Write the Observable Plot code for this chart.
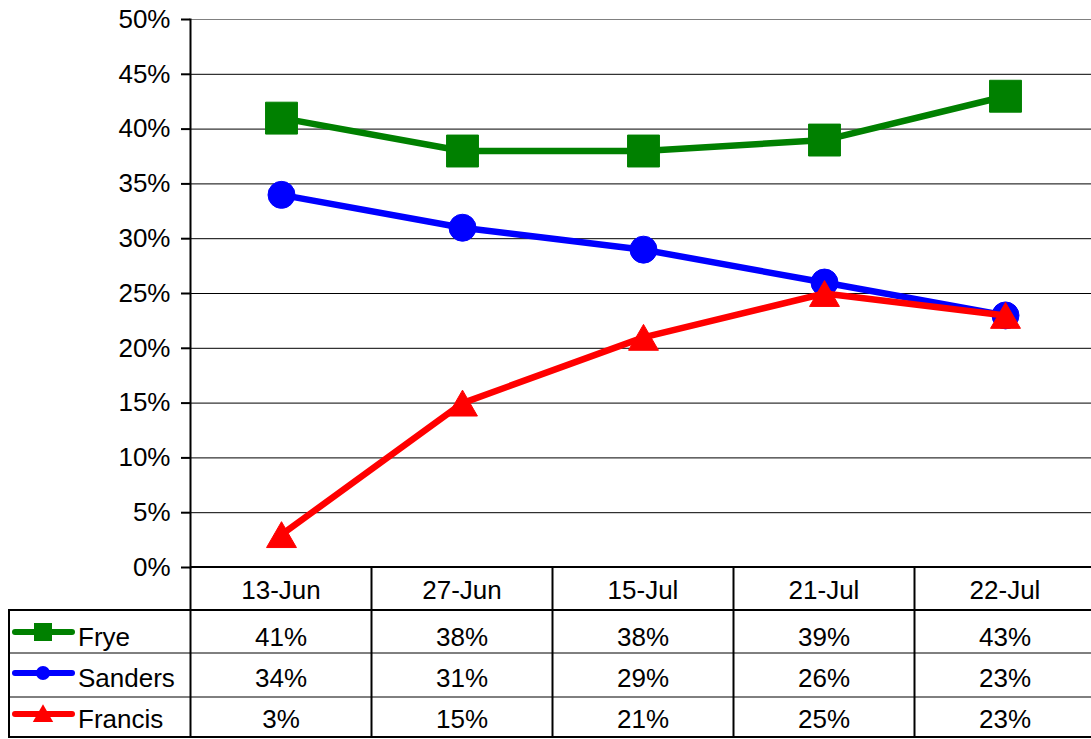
<!DOCTYPE html>
<html>
<head>
<meta charset="utf-8">
<script src="https://cdn.jsdelivr.net/npm/d3@7"></script>
<script src="https://cdn.jsdelivr.net/npm/@observablehq/plot@0.6"></script>
<style>
  html, body { margin: 0; padding: 0; background: #fff; }
  #chart svg { display: block; }
</style>
</head>
<body>
<div id="chart"></div>
<script>
// ---- data ----
const dates = ["13-Jun", "27-Jun", "15-Jul", "21-Jul", "22-Jul"];
const seriesNames = ["Frye", "Sanders", "Francis"];
const fryeValues = [0.41, 0.38, 0.38, 0.39, 0.43];
const sandersValues = [0.34, 0.31, 0.29, 0.26, 0.23];
const francisValues = [0.03, 0.15, 0.21, 0.25, 0.23];
const seriesColors = ["#008000", "#0000FF", "#FF0000"];
const seriesSymbols = ["square", "circle", "triangle"];
const yTicks = [0, 0.05, 0.10, 0.15, 0.20, 0.25, 0.30, 0.35, 0.40, 0.45, 0.50];

const seriesValues = [fryeValues, sandersValues, francisValues];
const rows = seriesNames.map((name, i) =>
  dates.map((date, j) => ({series: name, date, value: seriesValues[i][j]})));

const fmt = d => Math.round(d * 100) + "%";
const FONT = "'Liberation Sans', Arial, Helvetica, sans-serif";

const dotStyle = [
  {r: 18, dy: 0},
  {r: 13.5, dy: 0},
  {r: 11.1, dy: 4.3}
];

const seriesMarks = [];
seriesNames.forEach((name, i) => {
  seriesMarks.push(Plot.line(rows[i], {x: "date", y: "value", stroke: seriesColors[i], strokeWidth: 6.5, strokeLinejoin: "round"}));
  seriesMarks.push(Plot.dot(rows[i], {x: "date", y: "value", symbol: seriesSymbols[i], r: dotStyle[i].r, dy: dotStyle[i].dy, fill: seriesColors[i], stroke: seriesColors[i], strokeWidth: 1}));
});

const chart = Plot.plot({
  width: 1091,
  height: 739,
  marginLeft: 190,
  marginTop: 19,
  marginBottom: 172,
  marginRight: 0,
  style: {fontFamily: FONT, fontSize: "26px", color: "black", background: "white"},
  x: {type: "point", domain: dates, range: [280.7, 1006.3], padding: 0, axis: null},
  y: {domain: [0, 0.5], range: [567, 19], axis: null},
  marks: [
    Plot.ruleY(yTicks.filter(d => d > 0), {y: d => d, stroke: d => d >= 0.5 ? "#808080" : "black", strokeWidth: 1}),
    Plot.axisY({ticks: yTicks, tickFormat: fmt, tickSize: 9, tickPadding: 11, fontSize: 26, stroke: "black", strokeWidth: 2, label: null}),
    ...seriesMarks,
    Plot.frame({anchor: "left", stroke: "black", strokeWidth: 2})
  ]
});

document.getElementById("chart").appendChild(chart);

// ---- data table below the plot, positioned from the plot's x scale ----
const xs = chart.scale("x");
const centers = dates.map(d => xs.apply(d));
const step = centers[1] - centers[0];
const edges = centers.map(c => c - step / 2).concat([centers[centers.length - 1] + step / 2]);
const left = 8;
const rightX = 1091;
const rowTops = [567, 610, 653, 697, 738];
const baselines = [599, 646, 687, 728];

const svg = d3.select(chart);
const g = svg.append("g").attr("font-family", FONT).attr("font-size", 26).attr("fill", "black");

// horizontal lines
g.append("line").attr("x1", edges[0]).attr("x2", rightX).attr("y1", rowTops[0]).attr("y2", rowTops[0]).attr("stroke", "black").attr("stroke-width", 2);
g.append("line").attr("x1", left).attr("x2", rightX).attr("y1", rowTops[1]).attr("y2", rowTops[1]).attr("stroke", "black").attr("stroke-width", 2);
g.append("line").attr("x1", left).attr("x2", rightX).attr("y1", rowTops[2]).attr("y2", rowTops[2]).attr("stroke", "black").attr("stroke-width", 1);
g.append("line").attr("x1", left).attr("x2", rightX).attr("y1", rowTops[3]).attr("y2", rowTops[3]).attr("stroke", "black").attr("stroke-width", 1);
g.append("line").attr("x1", left).attr("x2", rightX).attr("y1", rowTops[4] - 1).attr("y2", rowTops[4] - 1).attr("stroke", "black").attr("stroke-width", 2);
// vertical lines
g.append("line").attr("x1", left + 1).attr("x2", left + 1).attr("y1", rowTops[1]).attr("y2", rowTops[4]).attr("stroke", "black").attr("stroke-width", 2);
edges.forEach(e => {
  g.append("line").attr("x1", e).attr("x2", e).attr("y1", rowTops[0]).attr("y2", rowTops[4]).attr("stroke", "black").attr("stroke-width", 2);
});
// header
dates.forEach((d, j) => {
  g.append("text").attr("x", centers[j]).attr("y", baselines[0]).attr("text-anchor", "middle").text(d);
});
// rows
seriesNames.forEach((name, i) => {
  const bl = baselines[i + 1];
  const ly = bl - 14;
  seriesValues[i].forEach((v, j) => {
    g.append("text").attr("x", centers[j]).attr("y", bl).attr("text-anchor", "middle").text(fmt(v));
  });
  // legend key
  g.append("line").attr("x1", 15).attr("x2", 72).attr("y1", ly).attr("y2", ly)
    .attr("stroke", seriesColors[i]).attr("stroke-width", 6).attr("stroke-linecap", "round");
  const symType = i === 0 ? d3.symbolSquare : i === 1 ? d3.symbolCircle : d3.symbolTriangle;
  const symSize = i === 0 ? 18 * 18 : i === 1 ? Math.PI * 7 * 7 : 180;
  const symDy = i === 2 ? 2 : 0;
  g.append("path").attr("d", d3.symbol(symType, symSize)())
    .attr("transform", `translate(43,${ly + symDy})`).attr("fill", seriesColors[i]);
  g.append("text").attr("x", 78).attr("y", bl).attr("text-anchor", "start").text(name);
});
</script>
</body>
</html>
